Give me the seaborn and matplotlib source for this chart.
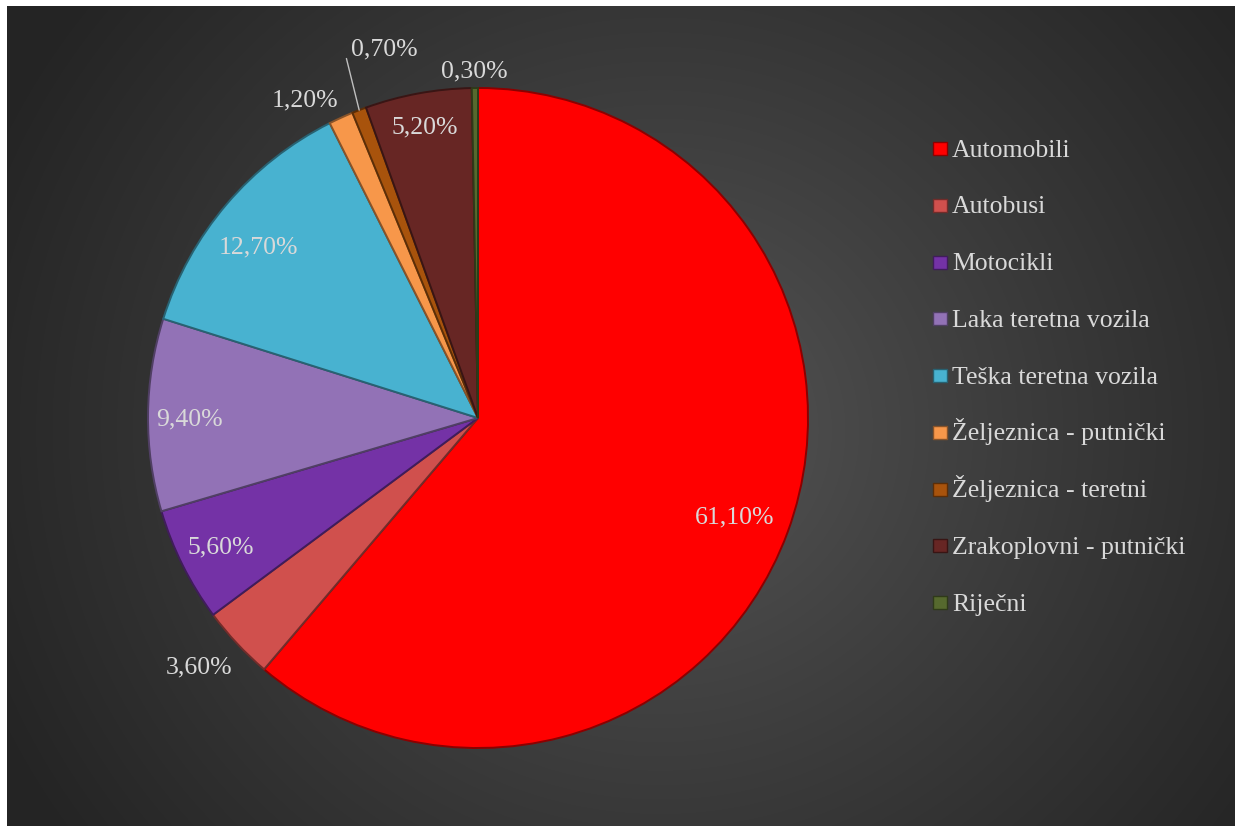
import numpy as np
import matplotlib
matplotlib.use("Agg")
import matplotlib.pyplot as plt
import matplotlib.colors as mcolors
from matplotlib.patches import Rectangle
import seaborn as sns

# ---- data ----
categories = ["Automobili", "Autobusi", "Motocikli", "Laka teretna vozila",
              "Teška teretna vozila", "Željeznica - putnički",
              "Željeznica - teretni", "Zrakoplovni - putnički", "Riječni"]
values = [61.1, 3.6, 5.6, 9.4, 12.7, 1.2, 0.7, 5.2, 0.3]
labels = ["61,10%", "3,60%", "5,60%", "9,40%", "12,70%", "1,20%", "0,70%", "5,20%", "0,30%"]
colors = ["#FF0000", "#D0504D", "#7432A6", "#9272B6", "#48B2D0",
          "#F7974A", "#A8530C", "#672624", "#56692E"]

# ---- style ----
sns.set_theme(style="dark")
plt.rcParams["font.family"] = ["Liberation Serif", "DejaVu Serif"]
TXT = "#D9D9D9"
FS = 18.5
palette = sns.color_palette(colors)

W, H, DPI = 1235, 826, 100
fig = plt.figure(figsize=(W / DPI, H / DPI), dpi=DPI, facecolor="white")

# background radial gradient (chart area)
bg = fig.add_axes([7 / W, 0, 1 - 7 / W, 1 - 6 / H])
bg.set_axis_off()
yy, xx = np.mgrid[0:H - 6, 7:W]
yy = yy + 6
cx, cy = 660, 430
d = np.sqrt((xx - cx) ** 2 + ((yy - cy) * 1.05) ** 2)
t = np.clip(d / 740.0, 0, 1) ** 0.85
c0 = np.array([0x58, 0x58, 0x58]) / 255.0
c1 = np.array([0x24, 0x24, 0x24]) / 255.0
img = c0[None, None, :] * (1 - t[..., None]) + c1[None, None, :] * t[..., None]
bg.imshow(img, aspect="auto", extent=[0, 1, 0, 1], origin="upper")
bg.set_xlim(0, 1)
bg.set_ylim(0, 1)

# pie axes: center (478,418) px, radius 330 px
R = 330
cxp, cyp = 478, 418
ax = fig.add_axes([(cxp - R) / W, (H - cyp - R) / H, 2 * R / W, 2 * R / H])
ax.set_axis_off()
ax.patch.set_alpha(0)

edge_cols = [tuple(np.array(mcolors.to_rgb(c)) * 0.55) for c in palette]
wedges, _ = ax.pie(values, colors=palette, startangle=90, counterclock=False,
                   radius=1.0, wedgeprops=dict(linewidth=1.4))
for w, ec in zip(wedges, edge_cols):
    w.set_edgecolor(ec)
ax.set_xlim(-1, 1)
ax.set_ylim(-1, 1)
ax.set_aspect("equal")

# label placement: radial factor and angular nudge from the slice middle
label_r = [0.832, 1.13, 0.869, 0.873, 0.846, 1.103, 1.16, 0.902, 1.059]
label_da = [-0.5, -1.6, -0.2, 0.3, 2.1, 3.9, -1.0, -0.1, 0.1]
for i, (w, lab) in enumerate(zip(wedges, labels)):
    mid_deg = (w.theta1 + w.theta2) / 2
    ang = np.deg2rad(mid_deg + label_da[i])
    r = label_r[i]
    x, y = r * np.cos(ang), r * np.sin(ang)
    if lab == "0,70%":
        mid = np.deg2rad(mid_deg)
        ax.annotate("", xy=(np.cos(mid), np.sin(mid)), xytext=(x, y),
                    annotation_clip=False,
                    arrowprops=dict(arrowstyle="-", color="#BFBFBF", lw=1,
                                    shrinkA=0, shrinkB=0))
        ax.annotate(lab, xy=(x, y), xytext=(3, 2), textcoords="offset points",
                    ha="left", va="baseline", fontsize=FS, color=TXT,
                    annotation_clip=False)
    else:
        ax.annotate(lab, xy=(x, y), xytext=(0, -6.2), textcoords="offset points",
                    ha="center", va="baseline", fontsize=FS, color=TXT,
                    annotation_clip=False)

# legend (uniform row spacing)
row0 = 156.7
step = 56.75
for k, (cat, c, ec) in enumerate(zip(categories, palette, edge_cols)):
    base = row0 + k * step
    fig.patches.append(Rectangle((933 / W, 1 - (base - 1.5) / H), 14 / W, 13 / H,
                                 transform=fig.transFigure, facecolor=c,
                                 edgecolor=ec, linewidth=1))
    fig.text(952 / W, 1 - base / H, cat, fontsize=FS, color=TXT,
             ha="left", va="baseline")

fig.savefig("out.png", dpi=DPI, facecolor=fig.get_facecolor())
